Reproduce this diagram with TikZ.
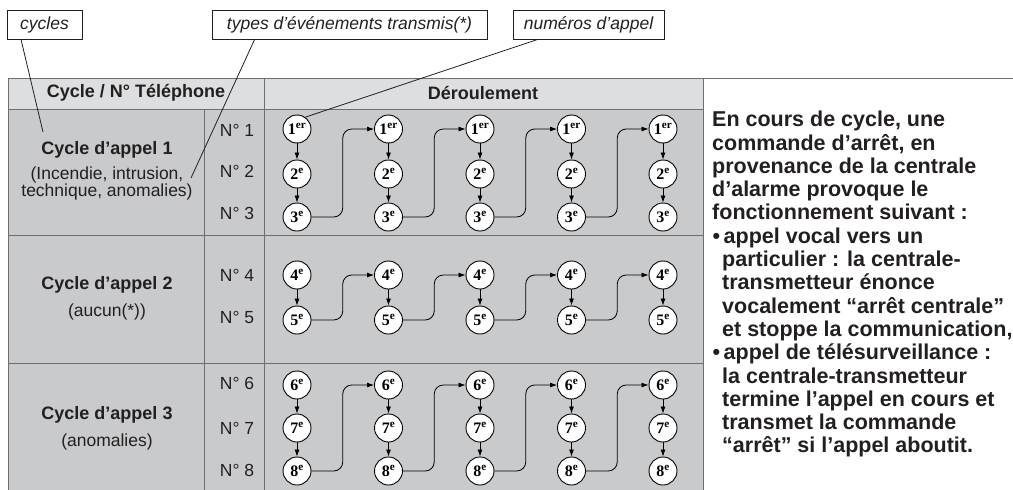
\documentclass[tikz,border=0pt]{standalone}
\usepackage{fontspec}
\setmainfont{Liberation Sans}
\newfontfamily\numfont{Liberation Serif}
\usepackage{tikz}
\usetikzlibrary{calc,arrows.meta}

\definecolor{hdrfill}{RGB}{221,222,223}
\definecolor{rowfill}{RGB}{201,202,204}
\definecolor{rulegray}{RGB}{110,110,110}
\definecolor{ink}{RGB}{35,31,32}

\tikzset{
  callout/.style={draw=ink, line width=0.8pt, minimum height=29pt, inner sep=0pt, text=ink, font=\fontsize{17.5}{20}\selectfont\itshape},
  hdr/.style={text=ink, font=\fontsize{18}{20}\selectfont\bfseries},
  cyctitle/.style={text=ink, font=\fontsize{18}{20}\selectfont\bfseries},
  cycsub/.style={text=ink, align=center, font=\fontsize{17.5}{17}\selectfont},
  numlbl/.style={text=ink, font=\fontsize{17.5}{20}\selectfont},
  callnum/.style={circle, draw=black, line width=0.9pt, fill=white, minimum size=28pt, inner sep=0pt, font=\fontsize{16}{16}\selectfont\numfont\bfseries},
  flow/.style={line width=0.8pt, -{Latex[length=7pt,width=5pt]}},
  note/.style={text=ink, align=left, inner sep=0pt, font=\fontsize{21.5}{23.3}\selectfont\bfseries}
}

\begin{document}
\begin{tikzpicture}[x=1pt,y=-1pt]
\useasboundingbox (0,0) rectangle (1013,490);

% table
\fill [hdrfill] (8,78) rectangle (703,109);
\fill [rowfill] (8,109) rectangle (703,490);
\draw [rulegray, line width=0.9pt] (8,490) -- (8,78) -- (1013,78);
\draw [rulegray, line width=0.9pt] (703,78) -- (703,490);
\draw [rulegray, line width=0.9pt] (264,78) -- (264,490);
\draw [rulegray, line width=0.9pt] (204,109) -- (204,490);
\foreach \y in {109,235,363}
  \draw [rulegray, line width=0.9pt] (8,\y) -- (703,\y);

\node [hdr] (hcycle) at (136,93) {Cycle / N° Téléphone};
\node [hdr] (hderoul) at (483,93) {Déroulement};

\node [cyctitle] (t1) at (107,150) {Cycle d’appel 1};
\node [cycsub] (s1) at (107,183) {(Incendie, intrusion,\\technique, anomalies)};
\node [cyctitle] (t2) at (107,285) {Cycle d’appel 2};
\node [cycsub] (s2) at (107,312) {(aucun(*))};
\node [cyctitle] (t3) at (107,415) {Cycle d’appel 3};
\node [cycsub] (s3) at (107,442) {(anomalies)};

\foreach \n/\y in {1/130,2/171,3/213,4/275,5/317,6/383,7/428,8/470}
  \node [numlbl] (n\n) at (237,\y) {N° \n};

% circles of each column
\foreach \i in {1,...,5}{
  \pgfmathsetmacro\cx{297+91.5*(\i-1)}
  \foreach \n/\y/\s in {1/129/er,2/174/e,3/217/e,4/275/e,5/320/e,6/385/e,7/428/e,8/471/e}
    \node [callnum] (p\i-\n) at (\cx,\y) {\n\textsuperscript{\s}};
  \foreach \a/\b in {1/2,2/3,4/5,6/7,7/8}
    \draw [flow] (p\i-\a) -- (p\i-\b);
}

% from the last number to the next column
\foreach \i [evaluate=\i as \j using int(\i+1)] in {1,...,4}
  \foreach \a/\b in {3/1,5/4,8/6}{
    \coordinate (m\i-\a) at ($(p\i-\a.east)!0.5!(p\j-\b.west)$);
    \draw [flow, rounded corners=9pt] (p\i-\a.east) -| (m\i-\a) |- (p\j-\b.west);
  }

% callouts
\node [callout, minimum width=75pt] (cyc) at (44.5,24.5) {cycles};
\node [callout, minimum width=275pt] (typ) at (349.5,24.5) {types d’événements transmis(*)};
\node [callout, minimum width=151pt] (num) at (588.5,24.5) {numéros d’appel};

\coordinate (cycend) at (43,132);
\coordinate (typend) at (191,178);
\draw [ink, line width=0.8pt] ($(cyc.south west)!0.19!(cyc.south east)$) -- (cycend);
\draw [ink, line width=0.8pt] ($(typ.south west)!0.156!(typ.south east)$) -- (typend);
\draw [ink, line width=0.8pt] ($(num.south west)!0.166!(num.south east)$) -- (p1-1.55);

\node [note, anchor=north west] (txt) at (712,111) {En cours de cycle, une\\
commande d’arrêt, en\\
provenance de la centrale\\
d’alarme provoque le\\
fonctionnement suivant :\\
\makebox[11.5pt][l]{\hspace{0.5pt}•}appel vocal vers un\\
\hspace*{10pt}particulier : la centrale-\\
\hspace*{10pt}transmetteur énonce\\
\hspace*{10pt}vocalement “arrêt centrale”\\
\hspace*{10pt}et stoppe la communication,\\
\makebox[11.5pt][l]{\hspace{0.5pt}•}appel de télésurveillance :\\
\hspace*{10pt}la centrale-transmetteur\\
\hspace*{10pt}termine l’appel en cours et\\
\hspace*{10pt}transmet la commande\\
\hspace*{10pt}“arrêt” si l’appel aboutit.};
\end{tikzpicture}
\end{document}
